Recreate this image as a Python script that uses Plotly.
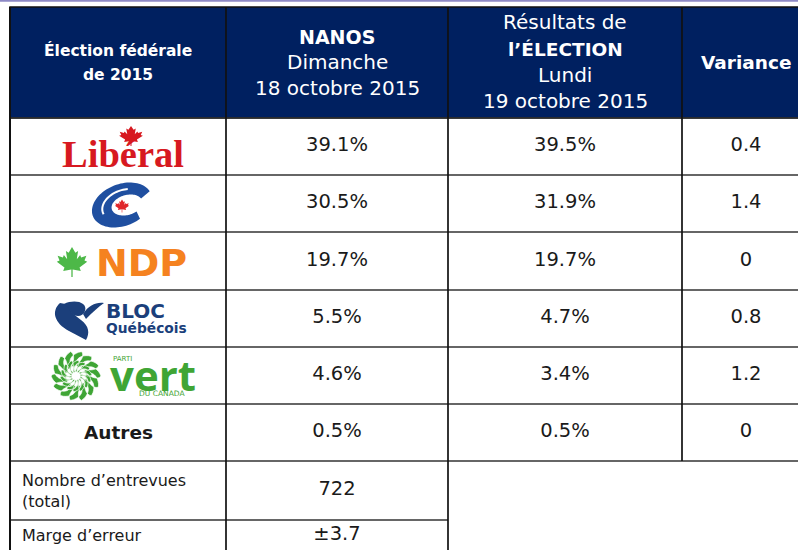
import numpy as np
import plotly.graph_objects as go

# ---------------- data ----------------
parties = ["Libéral", "Conservateur", "NPD", "Bloc Québécois", "Parti vert", "Autres"]
nanos_pct = [39.1, 30.5, 19.7, 5.5, 4.6, 0.5]
election_pct = [39.5, 31.9, 19.7, 4.7, 3.4, 0.5]
variance = [0.4, 1.4, 0.0, 0.8, 1.2, 0.0]
interviews = 722
margin_error = 3.7
header_col1 = ["<b>Élection fédérale</b>", "<b>de 2015</b>"]
header_col2 = ["<b>NANOS</b>", "Dimanche", "18 octobre 2015"]
header_col3 = ["Résultats de", "<b>l’ÉLECTION</b>", "Lundi", "19 octobre 2015"]
header_col4 = ["<b>Variance</b>"]
footer_labels = ["Nombre d’entrevues<br>(total)", "Marge d’erreur"]

# ---------------- layout geometry (pixels) ----------------
W, H = 798, 550
col_x = [10, 226, 448, 682, 812]
row_y = [7, 118, 175, 232, 290, 347, 404, 461, 520, 550]
NAVY = "#002060"
FONT = "DejaVu Sans"
TXT = "#1a1a1a"

def cx(i):
    return (col_x[i] + col_x[i + 1]) / 2

def cy(i):
    return (row_y[i] + row_y[i + 1]) / 2

shapes = []
annotations = []

def line(x0, y0, x1, y1, color="#111111", width=1.5):
    shapes.append(dict(type="line", xref="x", yref="y", x0=x0, y0=y0, x1=x1, y1=y1,
                       line=dict(color=color, width=width), layer="above"))

def path(d, fill, lc=None, lw=0):
    shapes.append(dict(type="path", xref="x", yref="y", path=d, fillcolor=fill,
                       line=dict(color=lc or fill, width=lw), layer="above"))

def poly(pts):
    return "M " + " L ".join(f"{x:.2f},{y:.2f}" for x, y in pts) + " Z"

def ann(x, y, text, size, color=TXT, family=FONT, xanchor="center", align="center", yanchor="middle"):
    annotations.append(dict(x=x, y=y, xref="x", yref="y", text=text, showarrow=False,
                            xanchor=xanchor, yanchor=yanchor, align=align,
                            font=dict(family=family, size=size, color=color)))

# top thin purple rule
line(0, 0.8, W, 0.8, color="#8E8AC6", width=2)

# header block
shapes.append(dict(type="rect", xref="x", yref="y", x0=col_x[0], x1=col_x[-1], y0=row_y[0], y1=row_y[1],
                   fillcolor=NAVY, line=dict(color="#111111", width=1.5), layer="below"))

# horizontal grid lines
for k in range(1, 8):
    line(col_x[0], row_y[k], col_x[-1], row_y[k], color="#333333", width=1.7)
line(col_x[0], row_y[8], col_x[2], row_y[8], color="#333333", width=1.7)
# vertical grid lines
line(col_x[0], row_y[0], col_x[0], H, color="#111111", width=2)
line(col_x[1], row_y[0], col_x[1], H, color="#111111", width=1.7)
line(col_x[2], row_y[0], col_x[2], H, color="#111111", width=1.7)
line(col_x[3], row_y[0], col_x[3], row_y[7], color="#111111", width=1.7)

# header text
for t, y in zip(header_col1, [50, 75]):
    ann(cx(0), y, t, 15.5, "white")
for t, y, s in zip(header_col2, [37, 62, 88], [19, 20, 20]):
    ann(cx(1), y, t, s, "white")
for t, y, s in zip(header_col3, [22, 49, 75, 101], [20, 18.5, 20, 20]):
    ann(cx(2), y, t, s, "white")
ann(746, 62, header_col4[0], 18.5, "white")

# ---------------- logos ----------------
LEAF = [(0.04, -1.0), (0.04, -0.5), (0.55, -0.6), (0.47, -0.36), (0.95, 0.02), (0.78, 0.1),
        (0.9, 0.42), (0.57, 0.3), (0.51, 0.46), (0.3, 0.18), (0.38, 0.74), (0.21, 0.62), (0.0, 1.0)]
LEAF_FULL = LEAF + [(-x, y) for x, y in reversed(LEAF[:-1])]

def leaf(x0, y0, w, h):
    return poly([(x0 + x * w / 2, y0 - y * h / 2) for x, y in LEAF_FULL])

# Liberal
ann(123, 154, "<b>Libéral</b>", 38.5, "#D71920", family="Liberation Serif")
path(leaf(131, 136, 25, 20), "#D71920")

# Conservative C
def c_logo(xc, yc):
    to = np.radians(np.linspace(38, 322, 70))
    ti = np.radians(np.linspace(322, 38, 70))
    pts = [(xc + 29 * np.cos(t), yc - 22.5 * np.sin(t)) for t in to]
    pts += [(xc + 5 + 15 * np.cos(t), yc - 10.5 * np.sin(t)) for t in ti]
    return [(x + 0.35 * (yc - y), y) for x, y in pts]

c_pts = c_logo(122, 205)
path(poly(c_pts), "#1F4FA0")
tg = np.radians(np.linspace(95, 215, 30))
gap = [(122 + 2 + 21 * np.cos(t), 205 - 16 * np.sin(t)) for t in tg]
gap = [(x + 0.35 * (205 - y), y) for x, y in gap]
shapes.append(dict(type="path", xref="x", yref="y",
                   path="M " + " L ".join(f"{x:.2f},{y:.2f}" for x, y in gap),
                   line=dict(color="white", width=2), layer="above"))
path(leaf(122, 206, 15, 13), "#E0262A")

# NDP
path(leaf(72, 262, 32, 30), "#4DB848")
ann(141, 263, "<b>NDP</b>", 38, "#F58220")

# Bloc Québécois
BQ = "#1B3F7B"
path("M 60,303 C 51,311 54,323 69,331 L 86,340 C 90,333 89,326 81,320 C 73,314 68,310 71,305 Z", BQ)
path("M 64,304 C 74,299 88,302 85,311 C 83,317 76,317 72,314 C 70,310 68,307 64,304 Z", BQ)
path("M 83,314 C 89,305 96,302 104,303 C 98,307 93,312 86,319 Z", BQ)
ann(104, 311, "<b>BLOC</b>", 20, BQ, xanchor="left")
ann(104, 328, "<b>Québécois</b>", 13.8, BQ, xanchor="left")

# Green party flower
GREEN = "#3FA535"
def petal(xc, yc, ang, r0, r1, wd, swirl, n=14):
    s = np.linspace(0, 1, n)
    side1, side2 = [], []
    for u in s:
        a = ang + swirl * u
        ca, sa = np.cos(a), np.sin(a)
        r = r0 + (r1 - r0) * u
        half = wd / 2 * np.sin(np.pi * u) ** 0.7
        px, py = r * ca, r * sa
        side1.append((xc + px - half * sa, yc + py + half * ca))
        side2.append((xc + px + half * sa, yc + py - half * ca))
    return side1 + side2[::-1]

fl_x, fl_y = 76, 376
for ring, (n, r0, r1, wd, sw, off) in enumerate([(14, 9, 25, 11, 0.45, 0.0),
                                                 (14, 4, 16, 7.5, 0.6, 0.22)]):
    sub = []
    for k in range(n):
        a = 2 * np.pi * k / n + off
        sub.append(poly(petal(fl_x, fl_y, a, r0, r1, wd, sw)))
    path(" ".join(sub), GREEN, lc="white", lw=0.7)
tc = np.linspace(0, 2 * np.pi, 30)
path(poly([(fl_x + 3.5 * np.cos(t), fl_y + 3.5 * np.sin(t)) for t in tc]), "white")
ann(111, 359, "PARTI", 7, GREEN, xanchor="left")
ann(108, 374, "<b>vert</b>", 42, GREEN, family="Open Sans", xanchor="left")
ann(137, 393, "DU CANADA", 7.5, GREEN, xanchor="left")

# Autres label
ann(cx(0), cy(6), "<b>Autres</b>", 18.5)

# footer labels
ann(20, cy(7), footer_labels[0], 16, xanchor="left", align="left")
ann(20, 535, footer_labels[1], 16, xanchor="left", align="left")

# ---------------- value cells (drawn via axes) ----------------
row_centers = [cy(i) for i in range(1, 7)]

def fmt_var(v):
    return "0" if v == 0 else f"{v:.1f}"

fig = go.Figure()
fig.add_trace(go.Scatter(x=[cx(1)] * len(nanos_pct), y=row_centers, mode="text",
                         text=[f"{v:.1f}%" for v in nanos_pct],
                         textfont=dict(family=FONT, size=19.5, color=TXT), hoverinfo="skip"))
fig.add_trace(go.Scatter(x=[cx(2)] * len(election_pct), y=row_centers, mode="text",
                         text=[f"{v:.1f}%" for v in election_pct],
                         textfont=dict(family=FONT, size=19.5, color=TXT), hoverinfo="skip"))
fig.add_trace(go.Scatter(x=[746] * len(variance), y=row_centers, mode="text",
                         text=[fmt_var(v) for v in variance],
                         textfont=dict(family=FONT, size=19.5, color=TXT), hoverinfo="skip"))
fig.add_trace(go.Scatter(x=[cx(1), cx(1)], y=[cy(7), 535], mode="text",
                         text=[f"{interviews}", f"±{margin_error}"],
                         textfont=dict(family=FONT, size=19.5, color=TXT), hoverinfo="skip"))

fig.update_layout(
    width=W, height=H, margin=dict(l=0, r=0, t=0, b=0),
    paper_bgcolor="white", plot_bgcolor="white", showlegend=False,
    xaxis=dict(range=[0, W], visible=False, fixedrange=True),
    yaxis=dict(range=[H, 0], visible=False, fixedrange=True),
    shapes=shapes, annotations=annotations,
)
fig.write_html("out.html", config={"displayModeBar": False},
               post_script="document.body.style.margin='0';document.body.style.overflow='hidden';")
